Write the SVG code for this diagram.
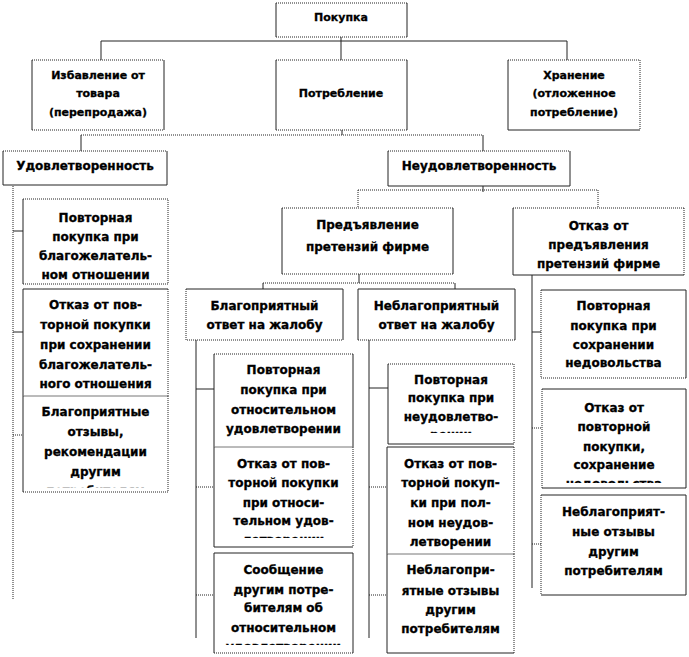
<svg xmlns="http://www.w3.org/2000/svg" width="689" height="657" viewBox="0 0 689 657">
<style>
.f{fill:#fff;stroke:none}
.s{fill:none;stroke:#222;stroke-width:1}
.g{fill:none;stroke:#777;stroke-width:1}
.d{fill:none;stroke:#222;stroke-width:1;stroke-dasharray:1 1}
text{font-family:"DejaVu Sans","Liberation Sans",sans-serif;font-weight:bold;font-size:12px;fill:#000;stroke:#000;stroke-width:0.3;text-anchor:middle}
.sm{font-size:11px}
</style>
<defs>
<clipPath id="cB3"><rect x="23" y="396" width="145" height="92"/></clipPath>
<clipPath id="cM2"><rect x="214" y="447" width="139" height="91"/></clipPath>
<clipPath id="cM3"><rect x="214" y="553" width="139" height="92"/></clipPath>
<clipPath id="cN1"><rect x="388" y="364" width="126" height="69"/></clipPath>
<clipPath id="cR2"><rect x="542" y="389" width="144" height="94"/></clipPath>
</defs>
<rect width="689" height="657" fill="#fff"/>
<g id="connectors">
<path class="s" d="M341 33V63M101 41H567M101 41V60M567 41V60M342 115V135M81 135V155M483 135V155M483 183V192M359 262V283M263 283V292M455 283V292"/>
<path class="d" d="M81 135H483M358 190H598M358 190V208M598 190V208M263 283H455M13 182V600"/>
<path class="s" d="M13 231H23M13 332H23M196 332V638M196 389H214M369 332V638M369 388H388M532 265V588M532 332H541"/>
<path class="d" d="M13 435H23M196 487H214M196 595H214M369 487H387M369 595H387M532 428H542M532 544H541"/>
</g>
<g id="n-pokupka">
<rect class="f" x="276" y="3" width="131" height="34"/>
<path class="s" d="M276 3V37M407 3V37"/><path class="d" d="M276 3H407M276 37H407"/>
<text class="sm" x="341" y="21">Покупка</text>
</g>
<g id="n-izbavlenie">
<rect class="f" x="32" y="60" width="132" height="70"/>
<path class="s" d="M32 60V130M164 60V130"/><path class="d" d="M32 60H164M32 130H164"/>
<text class="sm" x="98" y="79">Избавление от</text>
<text class="sm" x="98" y="97">товара</text>
<text class="sm" x="98" y="116">(перепродажа)</text>
</g>
<g id="n-potreblenie">
<rect class="f" x="276" y="60" width="131" height="70"/>
<path class="s" d="M276 60V130M407 60V130"/><path class="d" d="M276 60H407M276 130H407"/>
<text class="sm" x="341" y="97">Потребление</text>
</g>
<g id="n-hranenie">
<rect class="f" x="508" y="60" width="132" height="70"/>
<path class="s" d="M508 60V130M508 130H640"/><path class="d" d="M508 60H640M640 60V130"/>
<text class="sm" x="574" y="79">Хранение</text>
<text class="sm" x="574" y="97">(отложенное</text>
<text class="sm" x="574" y="116">потребление)</text>
</g>
<g id="n-udovl">
<rect class="f" x="3" y="151" width="164" height="34"/>
<path class="s" d="M3 151V185H167V151"/><path class="d" d="M3 151H167"/>
<text x="85" y="169.5">Удовлетворенность</text>
</g>
<g id="n-neudovl">
<rect class="f" x="388" y="151" width="182" height="35"/>
<path class="s" d="M388 151V186H570V151"/><path class="d" d="M388 151H570"/>
<text x="479" y="169.5">Неудовлетворенность</text>
</g>
<g id="n-predjavlenie">
<rect class="f" x="282" y="208" width="171" height="66"/>
<path class="s" d="M282 208V274M453 208V274"/><path class="d" d="M282 208H453M282 274H453"/>
<text x="367.5" y="229">Предъявление</text>
<text x="367.5" y="251">претензий фирме</text>
</g>
<g id="n-otkaz-pred">
<rect class="f" x="513" y="208" width="171" height="67"/>
<path class="s" d="M513 208V275M513 275H684"/><path class="d" d="M513 208H684M684 208V275"/>
<text x="598.5" y="230">Отказ от</text>
<text x="598.5" y="249">предъявления</text>
<text x="598.5" y="268">претензий фирме</text>
</g>
<g id="n-blag">
<rect class="f" x="186" y="289" width="157" height="51"/>
<path class="s" d="M186 289H343V340"/><path class="d" d="M186 289V340H343"/>
<text x="264.5" y="310">Благоприятный</text>
<text x="264.5" y="329">ответ на жалобу</text>
</g>
<g id="n-neblag">
<rect class="f" x="358" y="289" width="157" height="51"/>
<path class="s" d="M358 289H515V340M358 289V340"/><path class="d" d="M358 340H515"/>
<text x="436.5" y="310">Неблагоприятный</text>
<text x="436.5" y="329">ответ на жалобу</text>
</g>
<g id="n-b1">
<rect class="f" x="23" y="199" width="145" height="85"/>
<path class="s" d="M23 199V284"/><path class="d" d="M23 199H168V284H23"/>
<text x="95.5" y="222">Повторная</text>
<text x="95.5" y="241">покупка при</text>
<text x="95.5" y="260">благожелатель-</text>
<text x="95.5" y="279">ном отношении</text>
</g>
<g id="n-b2">
<rect class="f" x="23" y="289" width="145" height="107"/>
<path class="s" d="M23 289H168M23 289V396"/><path class="d" d="M168 289V396"/>
<text x="95.5" y="309">Отказ от пов-</text>
<text x="95.5" y="329">торной покупки</text>
<text x="95.5" y="349">при сохранении</text>
<text x="95.5" y="369">благожелатель-</text>
<text x="95.5" y="388">ного отношения</text>
</g>
<g id="n-b3">
<rect class="f" x="23" y="397" width="145" height="95"/>
<path class="g" d="M23 396H168"/><path class="s" d="M23 396V492"/><path class="d" d="M168 396V492M23 492H168"/>
<g clip-path="url(#cB3)">
<text x="95.5" y="416">Благоприятные</text>
<text x="95.5" y="436">отзывы,</text>
<text x="95.5" y="456">рекомендации</text>
<text x="95.5" y="476">другим</text>
<text x="95.5" y="495">потребителям</text>
</g>
</g>
<g id="n-m1">
<rect class="f" x="214" y="354" width="139" height="93"/>
<path class="s" d="M214 354V447M353 354V447"/><path class="d" d="M214 354H353"/>
<text x="283.5" y="374">Повторная</text>
<text x="283.5" y="394">покупка при</text>
<text x="283.5" y="414">относительном</text>
<text x="283.5" y="433">удовлетворении</text>
</g>
<g id="n-m2">
<rect class="f" x="214" y="448" width="139" height="99"/>
<path class="g" d="M214 447H353"/><path class="s" d="M214 447V547H353"/><path class="d" d="M353 447V547"/>
<g clip-path="url(#cM2)">
<text x="283.5" y="468">Отказ от пов-</text>
<text x="283.5" y="487">торной покупки</text>
<text x="283.5" y="507">при относи-</text>
<text x="283.5" y="525">тельном удов-</text>
<text x="283.5" y="544">летворении</text>
</g>
</g>
<g id="n-m3">
<rect class="f" x="214" y="553" width="139" height="100"/>
<path class="s" d="M214 553H353V653M214 553V653"/><path class="d" d="M214 653H353"/>
<g clip-path="url(#cM3)">
<text x="283.5" y="574">Сообщение</text>
<text x="283.5" y="594">другим потре-</text>
<text x="283.5" y="612">бителям об</text>
<text x="283.5" y="632">относительном</text>
<text x="283.5" y="651">удовлетворении</text>
</g>
</g>
<g id="n-n1">
<rect class="f" x="388" y="364" width="126" height="80"/>
<path class="s" d="M388 364V444H514"/><path class="d" d="M388 364H514V444"/>
<g clip-path="url(#cN1)">
<text x="451" y="384">Повторная</text>
<text x="451" y="402">покупка при</text>
<text x="451" y="421">неудовлетво-</text>
<text x="451" y="439">рении</text>
</g>
</g>
<g id="n-n2">
<rect class="f" x="387" y="447" width="127" height="107"/>
<path class="s" d="M387 447H514M387 447V554"/><path class="d" d="M514 447V554"/>
<text x="450.5" y="468">Отказ от пов-</text>
<text x="450.5" y="487">торной покуп-</text>
<text x="450.5" y="507">ки при пол-</text>
<text x="450.5" y="527">ном неудов-</text>
<text x="450.5" y="546">летворении</text>
</g>
<g id="n-n3">
<rect class="f" x="387" y="555" width="127" height="98"/>
<path class="g" d="M387 554H514"/><path class="s" d="M387 554V653H514"/><path class="d" d="M514 554V653"/>
<text x="450.5" y="574">Неблагопри-</text>
<text x="450.5" y="595">ятные отзывы</text>
<text x="450.5" y="614">другим</text>
<text x="450.5" y="633">потребителям</text>
</g>
<g id="n-r1">
<rect class="f" x="541" y="290" width="145" height="88"/>
<path class="s" d="M541 290H686V378"/><path class="d" d="M541 290V378H686"/>
<text x="613.5" y="310">Повторная</text>
<text x="613.5" y="330">покупка при</text>
<text x="613.5" y="349">сохранении</text>
<text x="613.5" y="367">недовольства</text>
</g>
<g id="n-r2">
<rect class="f" x="542" y="389" width="144" height="99"/>
<path class="s" d="M542 389H686V488H542"/><path class="d" d="M542 389V488"/>
<g clip-path="url(#cR2)">
<text x="614" y="412">Отказ от</text>
<text x="614" y="431">повторной</text>
<text x="614" y="451">покупки,</text>
<text x="614" y="469">сохранение</text>
<text x="614" y="488">недовольства</text>
</g>
</g>
<g id="n-r3">
<rect class="f" x="541" y="495" width="145" height="100"/>
<path class="s" d="M541 495H686V595H541"/><path class="d" d="M541 495V595"/>
<text x="613.5" y="516">Неблагоприят-</text>
<text x="613.5" y="536">ные отзывы</text>
<text x="613.5" y="556">другим</text>
<text x="613.5" y="575">потребителям</text>
</g>
</svg>
